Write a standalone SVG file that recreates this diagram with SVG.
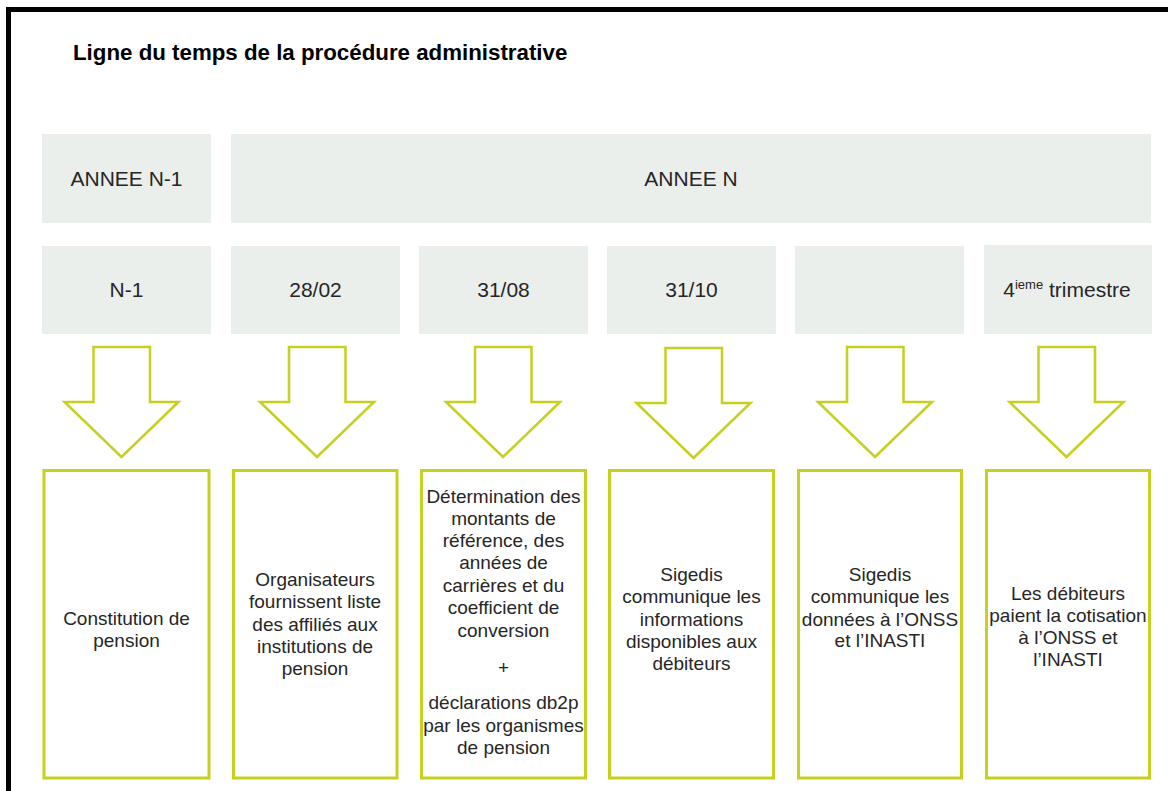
<svg xmlns="http://www.w3.org/2000/svg" width="1168" height="791" viewBox="0 0 1168 791">
<style>
.hdr{fill:#ebefec}
.box{fill:#ffffff;stroke:#c5d01f;stroke-width:3}
.arr{fill:#ffffff;stroke:#c5d01f;stroke-width:2.5;stroke-linejoin:miter}
.t{font-family:"Liberation Sans",Arial,sans-serif;font-size:19px;fill:#262626;text-anchor:middle}
.h{font-family:"Liberation Sans",Arial,sans-serif;font-size:21px;fill:#262626;text-anchor:middle}
.title{font-family:"Liberation Sans",Arial,sans-serif;font-size:22.3px;font-weight:bold;fill:#000000}
</style>
<rect x="0" y="0" width="1168" height="791" fill="#ffffff"/>
<path d="M8.5,791 V9.5 H1168" fill="none" stroke="#000000" stroke-width="5"/>
<g id="title"><text class="title" x="73" y="60">Ligne du temps de la procédure administrative</text></g>

<g id="year-n1"><rect class="hdr" x="42" y="134" width="169" height="89"/><text class="h" x="126.5" y="186">ANNEE N-1</text></g>
<g id="year-n"><rect class="hdr" x="231" y="134" width="920" height="89"/><text class="h" x="691" y="186">ANNEE N</text></g>

<g id="date-1"><rect class="hdr" x="42" y="246" width="169" height="88"/><text class="h" x="126.5" y="297">N-1</text></g>
<g id="date-2"><rect class="hdr" x="231" y="246" width="169" height="88"/><text class="h" x="315.5" y="297">28/02</text></g>
<g id="date-3"><rect class="hdr" x="419" y="246" width="169" height="88"/><text class="h" x="503.5" y="297">31/08</text></g>
<g id="date-4"><rect class="hdr" x="607" y="246" width="169" height="88"/><text class="h" x="691.5" y="297">31/10</text></g>
<g id="date-5"><rect class="hdr" x="795" y="246" width="169" height="88"/></g>
<g id="date-6"><rect class="hdr" x="984" y="245" width="168" height="89"/><text class="h" x="1067" y="297">4<tspan font-size="13px" dy="-8">ieme</tspan><tspan dy="8"> trimestre</tspan></text></g>

<g id="connectors">
<polygon class="arr" points="93.5,347 150,347 150,402 178.5,402 121.5,457 64.5,402 93.5,402"/>
<polygon class="arr" points="289,347 345.5,347 345.5,402 374,402 317,457 260,402 289,402"/>
<polygon class="arr" points="475,347 531.5,347 531.5,402 560,402 503,457 446,402 475,402"/>
<polygon class="arr" points="665.5,348 722,348 722,403 750.5,403 693.5,458 636.5,403 665.5,403"/>
<polygon class="arr" points="847,347 903.5,347 903.5,402 932,402 875,457 818,402 847,402"/>
<polygon class="arr" points="1038.5,347 1095,347 1095,402 1123.5,402 1066.5,457 1009.5,402 1038.5,402"/>
</g>

<g id="step-1"><rect class="box" x="44" y="470.5" width="165" height="307.5"/>
<text class="t" x="126.5" y="625">Constitution de</text>
<text class="t" x="126.5" y="647">pension</text></g>

<g id="step-2"><rect class="box" x="233.5" y="470.5" width="163.5" height="307.5"/>
<text class="t" x="315" y="586">Organisateurs</text>
<text class="t" x="315" y="608">fournissent liste</text>
<text class="t" x="315" y="631">des affiliés aux</text>
<text class="t" x="315" y="653">institutions de</text>
<text class="t" x="315" y="675">pension</text></g>

<g id="step-3"><rect class="box" x="421.5" y="470.5" width="164" height="307.5"/>
<text class="t" x="503.5" y="503">Détermination des</text>
<text class="t" x="503.5" y="525">montants de</text>
<text class="t" x="503.5" y="547">référence, des</text>
<text class="t" x="503.5" y="569">années de</text>
<text class="t" x="503.5" y="592">carrières et du</text>
<text class="t" x="503.5" y="614">coefficient de</text>
<text class="t" x="503.5" y="637">conversion</text>
<text class="t" x="503.5" y="674">+</text>
<text class="t" x="503.5" y="709">déclarations db2p</text>
<text class="t" x="503.5" y="732">par les organismes</text>
<text class="t" x="503.5" y="754">de pension</text></g>

<g id="step-4"><rect class="box" x="609.5" y="470.5" width="164" height="307.5"/>
<text class="t" x="691.5" y="581">Sigedis</text>
<text class="t" x="691.5" y="603">communique les</text>
<text class="t" x="691.5" y="626">informations</text>
<text class="t" x="691.5" y="648">disponibles aux</text>
<text class="t" x="691.5" y="670">débiteurs</text></g>

<g id="step-5"><rect class="box" x="798.5" y="470.5" width="163" height="307.5"/>
<text class="t" x="880" y="581">Sigedis</text>
<text class="t" x="880" y="603">communique les</text>
<text class="t" x="880" y="626">données à l’ONSS</text>
<text class="t" x="880" y="647">et l’INASTI</text></g>

<g id="step-6"><rect class="box" x="986.5" y="470.5" width="163" height="307.5"/>
<text class="t" x="1068" y="600">Les débiteurs</text>
<text class="t" x="1068" y="622">paient la cotisation</text>
<text class="t" x="1068" y="644">à l’ONSS et</text>
<text class="t" x="1068" y="666">l’INASTI</text></g>
</svg>
